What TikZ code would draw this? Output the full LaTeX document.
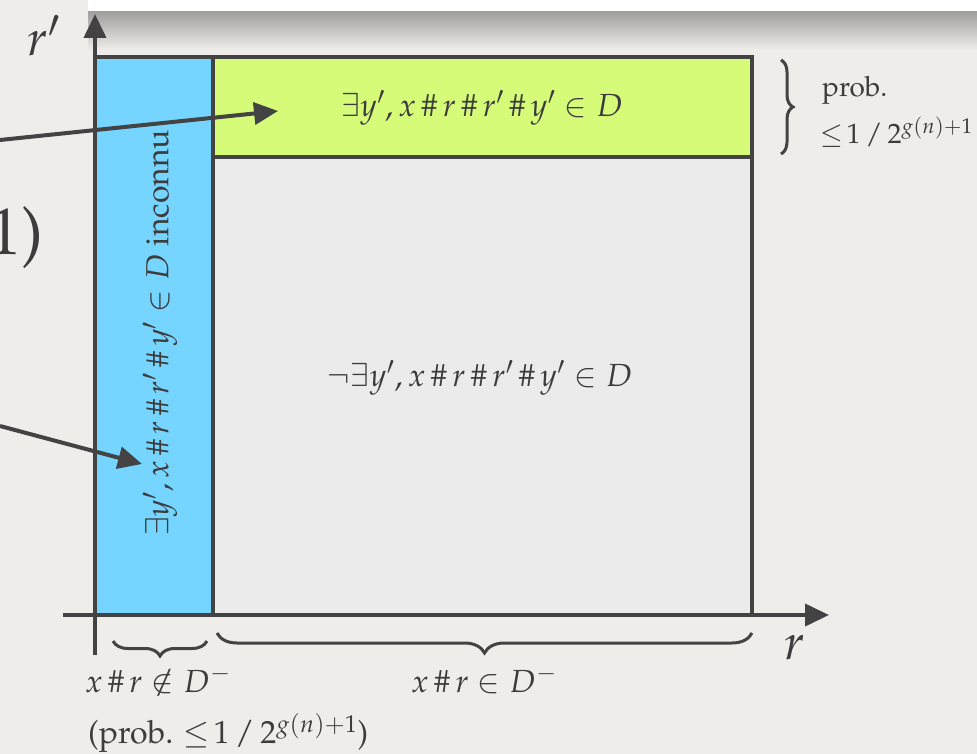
\documentclass[tikz,border=0pt]{standalone}
\usepackage[T1]{fontenc}
\usepackage{mathpazo}
\usepackage{xcolor}
\usetikzlibrary{arrows.meta,decorations.pathreplacing,positioning}
\definecolor{Ink}{HTML}{434343}
\definecolor{Sky}{HTML}{75D5FF}
\definecolor{Lime}{HTML}{D5FB79}
\definecolor{Fog}{HTML}{EBEBEB}
\definecolor{Paper}{HTML}{EFEDE9}
\definecolor{Shade}{HTML}{9E9C98}
\definecolor{Txt}{HTML}{3C3C3C}
\newcommand{\hs}{\mkern3mu\mathord{\#}\mkern3mu}

\begin{document}
\begin{tikzpicture}[
  x=1pt,y=-1pt,
  every node/.style={text=Txt,inner sep=0pt},
  lbl/.style={font=\fontsize{32}{38}\selectfont},
  note/.style={font=\fontsize{28}{33}\selectfont,anchor=west},
  axislbl/.style={font=\fontsize{50}{54}\selectfont},
  region/.style={draw=Ink,line width=4pt,fill=#1,anchor=north west,outer sep=0pt},
  arr/.style={-{Triangle[length=24pt,width=22pt]},line width=4pt,draw=Ink},
  brc/.style={decorate,decoration={brace,amplitude=#1},line width=3pt,draw=Ink}
]
% paper and slide edge
\useasboundingbox[fill=Paper] (0,0) rectangle (977,754);
\shade[top color=Shade,bottom color=Paper] (88,10) rectangle (977,50);
\fill[white] (88,0) rectangle (977,11);

% the three regions
\node[region=Sky,minimum width=118,minimum height=558] (unknown) at (95,57) {};
\node[region=Lime,minimum width=539,minimum height=100] (exists) at (unknown.north east) {};
\node[region=Fog,minimum width=539,minimum height=458] (none) at (exists.south west) {};

\node[lbl] (existstxt) at (482,108) {$\exists y', x\hs r\hs r'\hs y' \in D$};
\node[lbl] (nonetxt) at (480,378) {$\neg\exists y', x\hs r\hs r'\hs y' \in D$};
\node[lbl,rotate=90] (unknowntxt) at (160,333) {$\exists y', x\hs r\hs r'\hs y' \in D$ inconnu};

% axes
\coordinate (ybot) at (95,655);
\coordinate (ytop) at (95,14);
\coordinate (xleft) at (63,615);
\coordinate (xright) at (829,615);
\draw[arr] (ybot) -- (ytop);
\draw[arr] (xleft) -- (xright);
\node[axislbl] (rp) at (44,36) {$r'$};
\node[axislbl] (r) at (795,648) {$r$};

% arrows coming from the left
\coordinate (from1) at (0,140);
\coordinate (to1) at (278,111);
\coordinate (from2) at (0,426);
\coordinate (to2) at (142,464);
\draw[arr] (from1) -- (to1);
\draw[arr] (from2) -- (to2);
\node[font=\fontsize{66}{72}\selectfont] (cut) at (16,238) {1)};

% braces
\draw[brc=12] (781,60) -- (781,154);
\node[note] (prob) at (822,90) {prob.};
\node[note] (bound) at (820,132) {$\leq\!1\,/\,2^{g(n)+1}$};
\draw[brc=15] (207,641) -- (113,641);
\draw[brc=20] (752,633) -- (217,633);
\node[lbl] (notin) at (158,680) {$x\hs r \notin D^-$};
\node[lbl] (isin) at (484,680) {$x\hs r \in D^-$};
\node[lbl,anchor=west] (probbelow) at (88,733) {(prob. $\leq\!1\,/\,2^{g(n)+1}$)};
\end{tikzpicture}
\end{document}
